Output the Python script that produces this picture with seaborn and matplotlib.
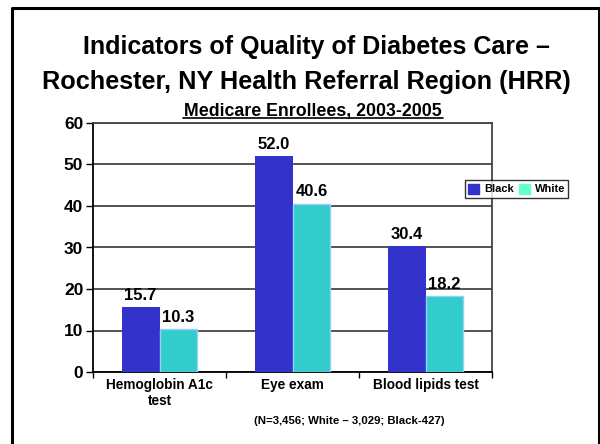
import matplotlib
matplotlib.use("Agg")
import matplotlib.pyplot as plt
import seaborn as sns
import pandas as pd
from matplotlib.patches import Patch
from matplotlib.lines import Line2D

categories = ["Hemoglobin A1c\ntest", "Eye exam", "Blood lipids test"]
black_vals = [15.7, 52.0, 30.4]
white_vals = [10.3, 40.6, 18.2]
groups = ["Black", "White"]
y_ticks = [0, 10, 20, 30, 40, 50, 60]

sns.set_theme(style="white")
plt.rcParams["font.family"] = ["Liberation Sans", "DejaVu Sans"]
plt.rcParams["font.weight"] = "bold"
plt.rcParams["text.color"] = "black"
plt.rcParams["xtick.color"] = "black"
plt.rcParams["ytick.color"] = "black"
plt.rcParams["xtick.labelcolor"] = "black"
plt.rcParams["ytick.labelcolor"] = "black"

df = pd.DataFrame({
    "cat": categories * 2,
    "grp": [groups[0]] * 3 + [groups[1]] * 3,
    "val": black_vals + white_vals,
})

W, H = 600, 444
fig = plt.figure(figsize=(6, 4.44), dpi=100)
ax = fig.add_axes([93 / W, 1 - 372 / H, (492 - 93) / W, (372 - 123) / H])

colors = {"Black": "#3333CC", "White": "#33CCCC"}
sns.barplot(data=df, x="cat", y="val", hue="grp", palette=colors, width=0.57,
            gap=0, dodge=True, ax=ax, legend=False, saturation=1, zorder=3)

for i, p in enumerate(ax.patches):
    if i >= 3:
        p.set_edgecolor("#99CCFF")
        p.set_linewidth(1.0)
    else:
        p.set_linewidth(0)

for cont in ax.containers:
    ax.bar_label(cont, fmt="%.1f", padding=3, fontsize=12, fontweight="bold",
                 color="black")

ax.set_ylim(0, 60)
ax.set_xlim(-0.5, 2.5)
ax.set_yticks(y_ticks)
ax.set_yticklabels([str(t) for t in y_ticks], fontsize=12.5, fontweight="bold")
ax.set_xticks(range(3))
ax.set_xticklabels(categories, fontsize=9.8, fontweight="bold")
ax.set_xticks([-0.5, 0.5, 1.5, 2.5], minor=True)
ax.tick_params(axis="x", which="major", length=0, pad=4)
ax.tick_params(axis="x", which="minor", length=4, width=1, color="black",
               direction="out", bottom=True)
ax.tick_params(axis="y", which="major", length=5, width=1, color="black",
               direction="out", left=True, pad=2)
ax.set_xlabel("")
ax.set_ylabel("")

ax.yaxis.grid(True, color="#444444", linewidth=1.3, zorder=0)
ax.set_axisbelow(True)
for side in ["left", "bottom"]:
    ax.spines[side].set_color("black")
    ax.spines[side].set_linewidth(1.3)
for side in ["top", "right"]:
    ax.spines[side].set_color("#444444")
    ax.spines[side].set_linewidth(1.3)

handles = [Patch(facecolor="#3333CC", edgecolor="#3333CC", label="Black"),
           Patch(facecolor="#66FFCC", edgecolor="#66FFCC", label="White")]
leg = fig.legend(handles=handles, loc="center left",
                 bbox_to_anchor=(465 / W, 1 - 189 / H), ncol=2,
                 frameon=True, fancybox=False,
                 prop={"weight": "bold", "size": 8},
                 handlelength=1.0, handleheight=1.0, handletextpad=0.4,
                 columnspacing=0.5, borderpad=0.3, borderaxespad=0)
leg.get_frame().set_edgecolor("black")
leg.get_frame().set_linewidth(1.0)

fig.text(316 / W, 1 - 47 / H, "Indicators of Quality of Diabetes Care \u2013",
         ha="center", va="center", fontsize=18, fontweight="bold")
fig.text(306 / W, 1 - 82 / H, "Rochester, NY Health Referral Region (HRR)",
         ha="center", va="center", fontsize=18.2, fontweight="bold")
fig.text(313 / W, 1 - 116 / H, "Medicare Enrollees, 2003-2005",
         ha="center", va="baseline", fontsize=12.8, fontweight="bold")
# underline
fig.add_artist(Line2D([183 / W, 443 / W], [1 - 118.5 / H, 1 - 118.5 / H],
                      color="black", linewidth=1.2, transform=fig.transFigure))
fig.text(349 / W, 1 - 421 / H, "(N=3,456; White \u2013 3,029; Black-427)",
         ha="center", va="center", fontsize=8.2, fontweight="bold")

# outer frame
fig.add_artist(Line2D([11.5 / W, 11.5 / W, 598.5 / W, 598.5 / W],
                      [0, 1 - 8 / H, 1 - 8 / H, 0],
                      color="black", linewidth=2.2, transform=fig.transFigure))

fig.savefig("out.png", dpi=100, facecolor="white")
